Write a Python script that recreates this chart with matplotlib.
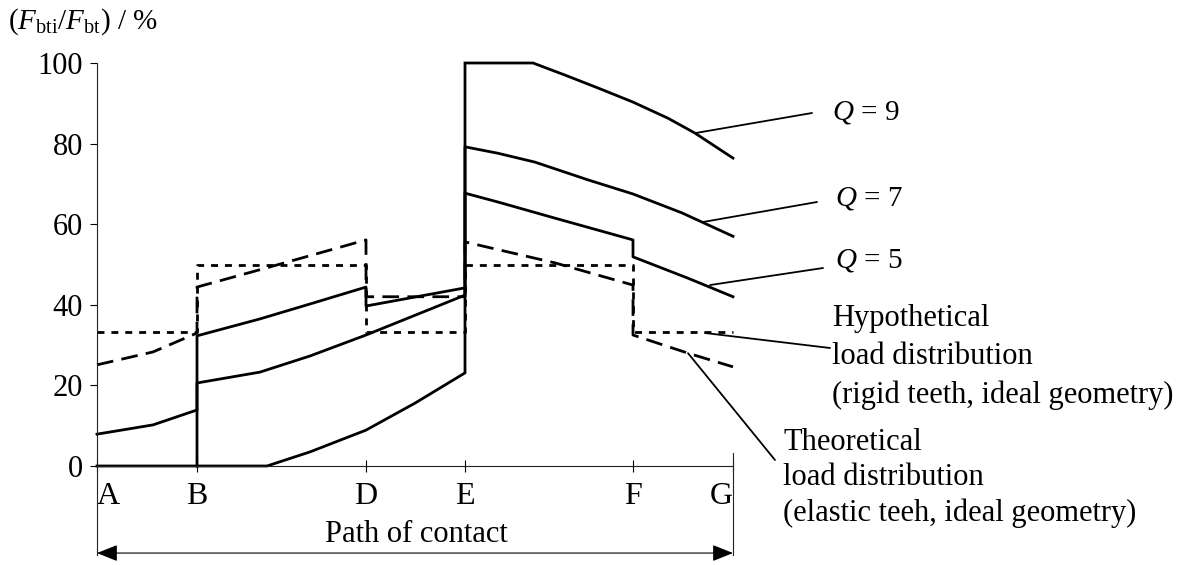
import matplotlib.pyplot as plt

plt.rcParams['font.family'] = ['Liberation Serif', 'DejaVu Serif']
plt.rcParams['mathtext.fontset'] = 'custom'
plt.rcParams['mathtext.rm'] = 'Liberation Serif'
plt.rcParams['mathtext.it'] = 'Liberation Serif:italic'
plt.rcParams['mathtext.bf'] = 'Liberation Serif:bold'

W, H = 1189, 565

# points along the path of contact
path_pos = [0, 100, 269, 368, 536, 636]
path_lbl = ['A', 'B', 'D', 'E', 'F', 'G']
y_ticks = [0, 20, 40, 60, 80, 100]

# load share curves, percent
q9_x = [0, 100, 170, 213, 269, 318, 368, 368, 436, 468, 501, 536, 571, 598, 636]
q9_y = [0, 0, 0, 3.5, 8.9, 15.6, 23.1, 100, 100, 97.0, 93.8, 90.3, 86.3, 82.6, 76.4]

q7_x = [0, 56, 100, 100, 163, 213, 269, 368, 368, 401, 438, 491, 536, 585, 636]
q7_y = [7.9, 10.2, 13.9, 20.6, 23.3, 27.3, 32.5, 42.4, 79.2, 77.6, 75.4, 71.0, 67.5, 62.8, 57.0]

q5_x = [100, 100, 163, 213, 269, 269, 368, 368, 401, 458, 536, 536, 591, 636]
q5_y = [0, 32.3, 36.5, 40.2, 44.4, 39.7, 44.2, 67.7, 65.5, 61.5, 56.1, 51.9, 46.6, 42.0]

theo_x = [0, 56, 100, 100, 173, 269, 269, 368, 368, 458, 536, 536, 591, 636]
theo_y = [25.1, 28.3, 33.0, 44.4, 49.4, 56.1, 42.0, 42.0, 55.6, 50.4, 44.9, 32.5, 28.0, 24.6]

hyp_x = [0, 100, 100, 269, 269, 368, 368, 536, 536, 636]
hyp_y = [33.3, 33.3, 50, 50, 33.3, 33.3, 50, 50, 33.3, 33.3]


def fpx(x, y):
    # pixel position -> figure fraction
    return x / W, 1 - y / H


fig = plt.figure(figsize=(W / 100, H / 100), dpi=100)
ax = fig.add_axes([97 / W, 1 - 466 / H, (733 - 97) / W, (466 - 63) / H])

lw = 2.0
ax.plot(q9_x, q9_y, color='black', lw=lw, clip_on=False, solid_joinstyle='miter')
ax.plot(q7_x, q7_y, color='black', lw=lw, clip_on=False)
ax.plot(q5_x, q5_y, color='black', lw=lw, clip_on=False)
ax.plot(theo_x, theo_y, color='black', lw=lw, ls=(0, (6, 3)), clip_on=False)
ax.plot(hyp_x, hyp_y, color='black', lw=lw, ls=(0, (2.5, 2.5)), clip_on=False)

ax.set_xlim(0, 636)
ax.set_ylim(0, 100)
for s in ['top', 'right']:
    ax.spines[s].set_visible(False)
for s in ['left', 'bottom']:
    ax.spines[s].set_linewidth(0.8)
    ax.spines[s].set_color('#222222')

ax.set_yticks(y_ticks)
ax.tick_params(axis='y', direction='out', length=5, width=0.8, pad=5, labelsize=22)
ax.set_xticks(path_pos, path_lbl)
ax.tick_params(axis='x', direction='inout', length=9, width=0.8, pad=7, labelsize=23)
xl = ax.get_xticklabels()
xl[0].set_ha('left')
xl[-1].set_ha('right')

# boundary lines and arrow for the path of contact
ax.axvline(0, ymin=-0.22, ymax=0, color='#222222', lw=0.8, clip_on=False)
ax.axvline(636, ymin=-0.22, ymax=0.032, color='#222222', lw=0.8, clip_on=False)
ax.annotate('', xy=(636, -0.216), xytext=(0, -0.216),
            xycoords=('data', 'axes fraction'), textcoords=('data', 'axes fraction'),
            arrowprops=dict(arrowstyle='<|-|>,head_length=0.8,head_width=0.32',
                            mutation_scale=16, color='black', lw=0.8,
                            shrinkA=0, shrinkB=0))
fig.text(*fpx(416, 535), 'Path of contact', ha='center', va='center', fontsize=22)

fig.text(*fpx(8, 22), r'$(F_{\mathrm{bti}}/F_{\mathrm{bt}})$ / %', ha='left',
         va='center', fontsize=21)

# leader lines and labels
leaders = [
    ((598, 82.6), (812, 113)),
    ((605, 60.5), (817, 202)),
    ((613, 44.9), (823, 268)),
    ((608, 33.0), (830, 348)),
    ((591, 28.0), (775, 460)),
]
for xy, (px, py) in leaders:
    ax.annotate('', xy=xy, xytext=fpx(px, py), textcoords='figure fraction',
                annotation_clip=False,
                arrowprops=dict(arrowstyle='-', lw=1.3, color='black',
                                shrinkA=0, shrinkB=0))

fig.text(*fpx(832, 112), r'$Q$ = 9', ha='left', va='center', fontsize=21)
fig.text(*fpx(835, 198), r'$Q$ = 7', ha='left', va='center', fontsize=21)
fig.text(*fpx(835, 260), r'$Q$ = 5', ha='left', va='center', fontsize=21)
fig.text(*fpx(832, 357), 'Hypothetical\nload distribution\n(rigid teeth, ideal geometry)',
         ha='left', va='center', fontsize=22, linespacing=1.4)
fig.text(*fpx(783, 478), 'Theoretical\nload distribution\n(elastic teeh, ideal geometry)',
         ha='left', va='center', fontsize=22, linespacing=1.28)

fig.savefig('out.png', dpi=100)
